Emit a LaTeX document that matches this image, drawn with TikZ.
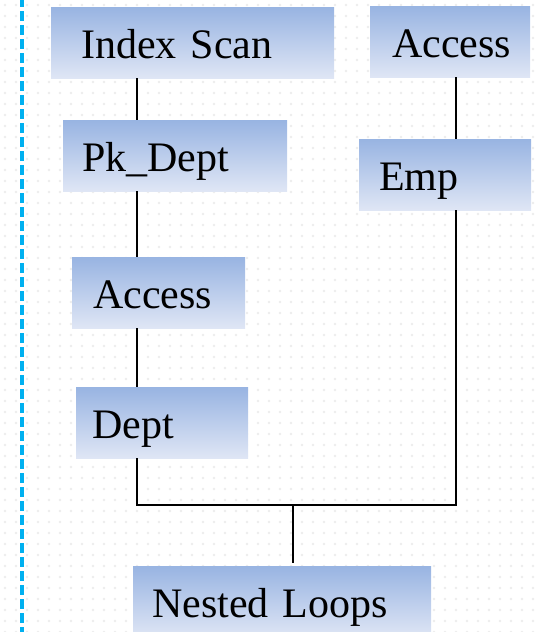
\documentclass[tikz,border=0pt]{standalone}
\usepackage{fontspec}
\setmainfont{Liberation Serif}
\usetikzlibrary{calc}

\definecolor{boxtop}{RGB}{152,180,226}
\definecolor{boxbottom}{RGB}{223,230,245}
\definecolor{guideblue}{RGB}{0,176,240}
\definecolor{dotgray}{RGB}{236,236,236}

\tikzset{
  planbox/.style={anchor=north west,
    top color=boxtop, bottom color=boxbottom,
    minimum height=71pt, inner ysep=0pt, align=left,
    text height=34pt, text depth=2pt,
    font=\fontsize{42}{48}\selectfont},
  planline/.style={line width=2pt, black}
}

\begin{document}
\begin{tikzpicture}[x=1pt,y=-1pt]
\useasboundingbox (0,0) rectangle (543,632);

\foreach \x in {5,16,...,543}{
  \foreach \y in {5,16,...,632}{
    \fill[dotgray] (\x,\y) circle (1.4pt);
  }
}

\draw[guideblue, line width=3.5pt, dash pattern=on 10pt off 4pt] (22,-3) -- (22,632);

\node[planbox, minimum width=283pt, text width=223pt, inner xsep=30pt] (idx) at (51,7) {Index Scan};
\node[planbox, minimum width=160pt, text width=116pt, inner xsep=22pt] (accR) at (370,6) {Access};
\node[planbox, minimum width=224pt, text width=186pt, inner xsep=19pt] (pk) at (63,120) {Pk\_Dept};
\node[planbox, minimum width=172pt, text width=132pt, inner xsep=20pt] (emp) at (359,139) {Emp};
\node[planbox, minimum width=173pt, text width=131pt, inner xsep=21pt] (accL) at (72,257) {Access};
\node[planbox, minimum width=172pt, text width=140pt, inner xsep=16pt] (dept) at (76,387) {Dept};
\node[planbox, minimum width=298pt, text width=260pt, inner xsep=19pt] (nl) at (133,566) {Nested Loops};

\coordinate (colL) at (137,0);
\coordinate (colR) at (456,0);
\coordinate (join) at (293,505);

\draw[planline] (idx.south -| colL) -- (pk.north -| colL);
\draw[planline] (pk.south -| colL) -- (accL.north -| colL);
\draw[planline] (accL.south -| colL) -- (dept.north -| colL);
\draw[planline] (accR.south -| colR) -- (emp.north -| colR);
\draw[planline] (dept.south -| colL) -- (colL |- join) -- (colR |- join) -- (emp.south -| colR);
\draw[planline, shorten >=3pt] (join) -- (nl.north -| join);

\end{tikzpicture}
\end{document}
